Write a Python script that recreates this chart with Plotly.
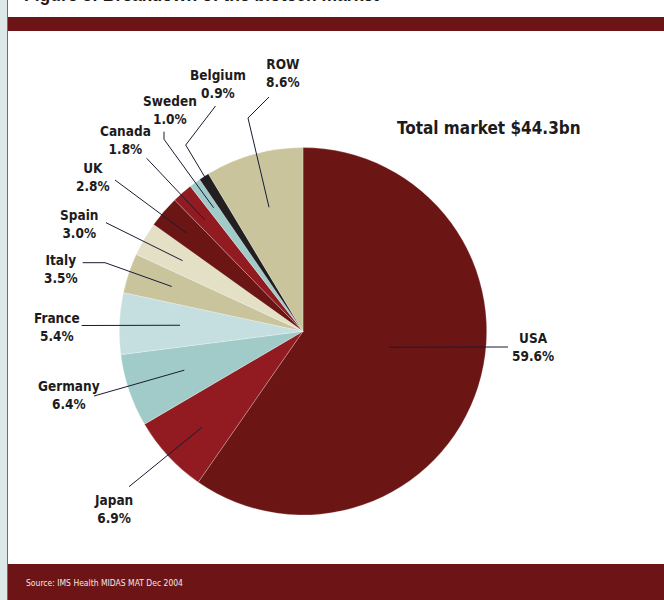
import math
import plotly.graph_objects as go

# ---- data -------------------------------------------------------------
countries = ["USA", "Japan", "Germany", "France", "Italy", "Spain",
             "UK", "Canada", "Sweden", "Belgium", "ROW"]
shares = [59.6, 6.9, 6.4, 5.4, 3.5, 3.0, 2.8, 1.8, 1.0, 0.9, 8.6]
share_labels = ["59.6%", "6.9%", "6.4%", "5.4%", "3.5%", "3.0%",
                "2.8%", "1.8%", "1.0%", "0.9%", "8.6%"]
total_label = "Total market $44.3bn"
source_text = "Source: IMS Health MIDAS MAT Dec 2004"
title_text = "Figure 3: Breakdown of the biotech market"

# ---- styling ----------------------------------------------------------
DARK_RED = "#6C1515"
RED = "#911B20"
TEAL = "#A0CBC8"
PALE_BLUE = "#C5DFE0"
TAN = "#C9C49C"
CREAM = "#E4E0C5"
BLACK = "#231F20"
slice_colors = [DARK_RED, RED, TEAL, PALE_BLUE, TAN, CREAM,
                DARK_RED, RED, TEAL, BLACK, TAN]

W, H = 664, 600
LABEL_FONT = "DejaVu Sans Condensed, Liberation Sans Narrow, Arial Narrow, sans-serif"
TEXT_COLOR = "#1E1B1C"
LEADER_COLOR = "#1A1A35"

# pie box in pixels (left, right, top, bottom)
PIE_L, PIE_R, PIE_T, PIE_B = 119, 487, 147.6, 515.0
cx = (PIE_L + PIE_R) / 2
cy = (PIE_T + PIE_B) / 2
R = min(PIE_R - PIE_L, PIE_B - PIE_T) / 2


def px(x, y):
    """pixel position -> paper coordinates"""
    return x / W, 1 - y / H


# label layout: anchor = (position along slice, radial fraction),
# elbow = leader points from the slice outwards, text = centre of the label block
layout_spec = {
    "USA":     dict(anchor=(0.468, 0.476), elbow=[(508, 347)], text=(533, 347)),
    "Japan":   dict(anchor=(0.47, 0.76), elbow=[(129, 486.7)], text=(113, 509)),
    "Germany": dict(anchor=(0.53, 0.68), elbow=[(94, 396)], text=(69, 395)),
    "France":  dict(anchor=(0.52, 0.67), elbow=[(81.7, 325.5)], text=(56.5, 326.5)),
    "Italy":   dict(anchor=(0.53, 0.755), elbow=[(105, 262.7), (82.7, 262.7)], text=(61, 268.5)),
    "Spain":   dict(anchor=(0.52, 0.76), elbow=[(106, 222.7)], text=(78.5, 223.5)),
    "UK":      dict(anchor=(0.45, 0.83), elbow=[(115, 180)], text=(92.5, 176.5)),
    "Canada":  dict(anchor=(0.45, 0.81), elbow=[(146.7, 158.3)], text=(125.5, 140)),
    "Sweden":  dict(anchor=(0.54, 0.83), elbow=[(164, 139.3), (164, 131.7)], text=(170, 110)),
    "Belgium": dict(anchor=(0.53, 0.97), elbow=[(185.7, 145), (215.5, 106)], text=(218, 84.3)),
    "ROW":     dict(anchor=(0.506, 0.70), elbow=[(248, 118), (269, 97)], text=(283, 73.3)),
}

fig = go.Figure(go.Pie(
    labels=countries,
    values=shares,
    sort=False,
    direction="clockwise",
    rotation=0,
    marker=dict(colors=slice_colors, line=dict(color="rgba(255,255,255,0.35)", width=0.7)),
    textinfo="none",
    hoverinfo="label+percent",
    showlegend=False,
    domain=dict(x=[PIE_L / W, PIE_R / W], y=[1 - PIE_B / H, 1 - PIE_T / H]),
))

shapes = []
annotations = []

# frame: left strip, border line, header bar, footer bar
shapes.append(dict(type="rect", xref="paper", yref="paper", layer="below",
                   x0=0, x1=7 / W, y0=0, y1=1, fillcolor="#DCE9E8", line_width=0))
shapes.append(dict(type="line", xref="paper", yref="paper", layer="below",
                   x0=7.5 / W, x1=7.5 / W, y0=0, y1=1, line=dict(color="#6E6E6E", width=1)))
shapes.append(dict(type="rect", xref="paper", yref="paper", layer="below",
                   x0=8 / W, x1=1, y0=1 - 31 / H, y1=1 - 17 / H, fillcolor="#6D1516", line_width=0))
shapes.append(dict(type="rect", xref="paper", yref="paper", layer="below",
                   x0=8 / W, x1=1, y0=0, y1=1 - 564 / H, fillcolor="#6D1516", line_width=0))

# leader lines and labels
total = sum(shares)
start = 0.0
for name, val, txt in zip(countries, shares, share_labels):
    span = val / total * 360.0
    spec = layout_spec[name]
    pos, rad = spec["anchor"]
    theta = math.radians(start + pos * span)
    ax = cx + rad * R * math.sin(theta)
    ay = cy - rad * R * math.cos(theta)
    pts = [(ax, ay)] + spec["elbow"]
    path = "M " + " L ".join("{:.5f},{:.5f}".format(*px(x, y)) for x, y in pts)
    shapes.append(dict(type="path", xref="paper", yref="paper", layer="above",
                       path=path, line=dict(color=LEADER_COLOR, width=1)))
    xp, yp = px(*spec["text"])
    annotations.append(dict(text="<b>" + name + "<br>" + txt + "</b>", x=xp, y=yp,
                            xref="paper", yref="paper", align="center",
                            xanchor="center", yanchor="middle", showarrow=False,
                            font=dict(family=LABEL_FONT, size=13.5, color=TEXT_COLOR)))
    start += span

# headline figure
xp, yp = px(395, 127.5)
annotations.append(dict(text="<b>" + total_label + "</b>", x=xp, y=yp, xref="paper", yref="paper",
                        xanchor="left", yanchor="middle", showarrow=False,
                        font=dict(family=LABEL_FONT, size=17, color=TEXT_COLOR)))

# source note in the footer
xp, yp = px(24, 582.5)
annotations.append(dict(text=source_text, x=xp, y=yp, xref="paper", yref="paper",
                        xanchor="left", yanchor="middle", showarrow=False,
                        font=dict(family=LABEL_FONT, size=8.5, color="#F2E6E6")))

# figure title (runs off the top edge)
xp, yp = px(22, 7)
annotations.append(dict(text="<b>" + title_text + "</b>", x=xp, y=yp, xref="paper", yref="paper",
                        xanchor="left", yanchor="bottom", showarrow=False,
                        font=dict(family="Liberation Sans, Arial, sans-serif", size=17.5, color="#1A1A1A")))

fig.update_layout(
    width=W, height=H,
    margin=dict(l=0, r=0, t=0, b=0),
    paper_bgcolor="white",
    plot_bgcolor="white",
    shapes=shapes,
    annotations=annotations,
)

fig.write_html("out.html")
